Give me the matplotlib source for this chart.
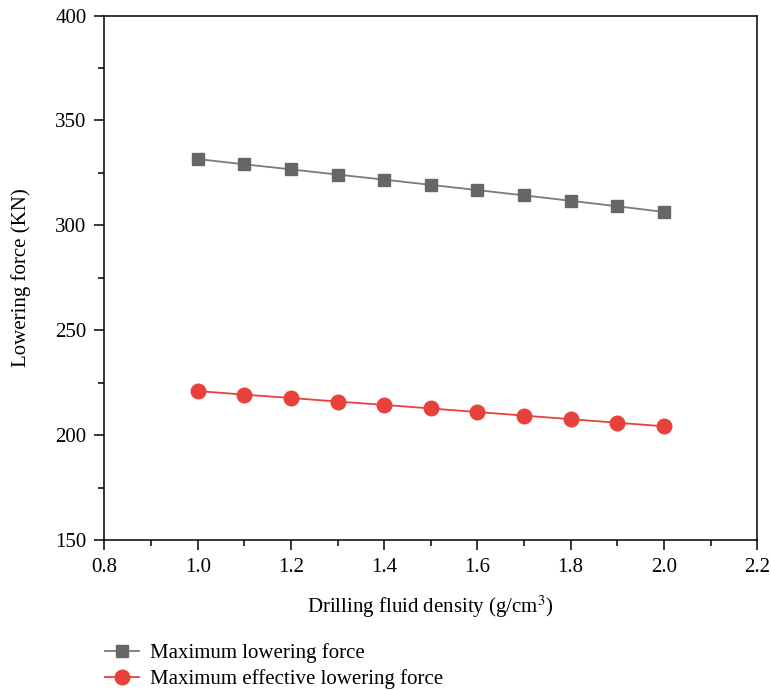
import matplotlib.pyplot as plt
from matplotlib.ticker import MultipleLocator

density = [1.0, 1.1, 1.2, 1.3, 1.4, 1.5, 1.6, 1.7, 1.8, 1.9, 2.0]
max_force = [331.6, 329.1, 326.7, 324.2, 321.8, 319.3, 316.8, 314.3, 311.7, 309.1, 306.4]
max_eff_force = [221.0, 219.3, 217.7, 216.0, 214.4, 212.7, 211.0, 209.3, 207.6, 205.9, 204.2]

plt.rcParams['font.family'] = ['Liberation Serif', 'DejaVu Serif']
plt.rcParams['mathtext.fontset'] = 'stix'

fig = plt.figure(figsize=(7.71, 6.9), dpi=100)
ax = fig.add_axes([0.1355, 0.2174, 0.8465, 0.76])

ax.plot(density, max_force, color='#7a7a7a', lw=1.3, marker='s', ms=9,
        mfc='#666666', mec='#666666', label='Maximum lowering force')
ax.plot(density, max_eff_force, color='#e8413c', lw=1.3, marker='o', ms=10.5,
        mfc='#e8413c', mec='#e8413c', label='Maximum effective lowering force')

ax.set_xlim(0.8, 2.2)
ax.set_ylim(150, 400)
ax.xaxis.set_major_locator(MultipleLocator(0.2))
ax.xaxis.set_minor_locator(MultipleLocator(0.1))
ax.yaxis.set_major_locator(MultipleLocator(50))
ax.yaxis.set_minor_locator(MultipleLocator(25))
ax.xaxis.set_major_formatter(plt.FuncFormatter(lambda v, p: f'{v:.1f}'))
ax.tick_params(which='major', direction='out', length=7, width=1.1, labelsize=15, pad=6)
ax.tick_params(which='minor', direction='out', length=4, width=1.1)
ax.tick_params(top=False, right=False, which='both')
for s in ax.spines.values():
    s.set_linewidth(1.1)

ax.set_xlabel('Drilling fluid density (g/cm$^3$)', fontsize=15, labelpad=12)
ax.set_ylabel('Lowering force (KN)', fontsize=15, labelpad=17)

fig.legend(loc='upper left', bbox_to_anchor=(0.126, 0.08), frameon=False,
           fontsize=15, handlelength=1.6, handletextpad=0.55, labelspacing=0.3,
           borderaxespad=0)

fig.savefig('out.png', dpi=100)
